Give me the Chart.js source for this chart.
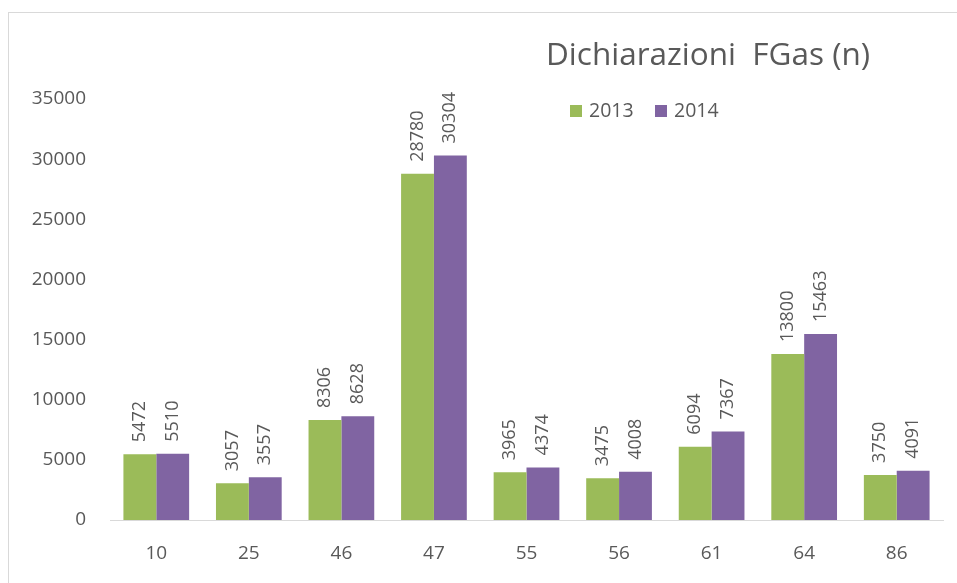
<!DOCTYPE html>
<html>
<head>
<meta charset="utf-8">
<script src="https://cdn.jsdelivr.net/npm/chart.js@4"></script>
<style>
  html, body { margin: 0; padding: 0; background: #fff; }
  #wrap { position: relative; width: 957px; height: 583px; overflow: hidden; }
  #frame { position: absolute; left: 8px; top: 12px; width: 980px; height: 600px; border: 1px solid #d9d9d9; }
  canvas { position: absolute; left: 0; top: 0; }
</style>
</head>
<body>
<div id="wrap">
  <div id="frame"></div>
  <canvas id="fgasChart" width="957" height="583"></canvas>
</div>
<script>
// Dichiarazioni FGas per codice
const categories = ['10', '25', '46', '47', '55', '56', '61', '64', '86'];
const years = ['2013', '2014'];
const values2013 = [5472, 3057, 8306, 28780, 3965, 3475, 6094, 13800, 3750];
const values2014 = [5510, 3557, 8628, 30304, 4374, 4008, 7367, 15463, 4091];
const yTicks = [0, 5000, 10000, 15000, 20000, 25000, 30000, 35000];

const textColor = '#595959';
const font = '"Open Sans", "Noto Sans", sans-serif';

// rotated value labels above each bar
const barLabels = {
    id: 'barLabels',
    afterDatasetsDraw(chart) {
        const ctx = chart.ctx;
        ctx.save();
        ctx.fillStyle = textColor;
        ctx.font = '18px ' + font;
        ctx.textAlign = 'left';
        ctx.textBaseline = 'middle';
        chart.data.datasets.forEach((ds, i) => {
            chart.getDatasetMeta(i).data.forEach((bar, j) => {
                ctx.save();
                ctx.translate(bar.x, bar.y - 12);
                ctx.rotate(-Math.PI / 2);
                ctx.fillText(String(ds.data[j]), 0, 0);
                ctx.restore();
            });
        });
        ctx.restore();
    }
};

// title and legend in the upper right
const header = {
    id: 'header',
    afterDraw(chart) {
        const ctx = chart.ctx;
        ctx.save();
        ctx.fillStyle = textColor;
        ctx.font = '31.5px ' + font;
        ctx.textBaseline = 'middle';
        ctx.textAlign = 'left';
        ctx.fillText('Dichiarazioni  FGas (n)', 546, 56);
        ctx.font = '19.5px ' + font;
        let x = 570;
        chart.data.datasets.forEach(ds => {
            ctx.fillStyle = ds.backgroundColor;
            ctx.fillRect(x, 105, 12, 12);
            ctx.fillStyle = textColor;
            ctx.fillText(ds.label, x + 19, 111);
            x += 85;
        });
        ctx.restore();
    }
};

new Chart(document.getElementById('fgasChart').getContext('2d'), {
    type: 'bar',
    data: {
        labels: categories,
        datasets: [{
            label: years[0],
            data: values2013,
            backgroundColor: '#9BBB59',
            categoryPercentage: 0.71,
            barPercentage: 1
        }, {
            label: years[1],
            data: values2014,
            backgroundColor: '#8064A2',
            categoryPercentage: 0.71,
            barPercentage: 1
        }]
    },
    options: {
        responsive: false,
        animation: false,
        layout: { padding: { top: 99, right: 14, left: 0, bottom: 0 } },
        plugins: {
            legend: { display: false },
            title: { display: false },
            tooltip: { enabled: false }
        },
        scales: {
            x: {
                grid: { display: false, drawTicks: false },
                border: { display: true, color: '#d9d9d9' },
                ticks: { color: textColor, font: { size: 19, family: font }, padding: 22 },
                afterFit(scale) { scale.height = 63; }
            },
            y: {
                min: 0,
                max: 35000,
                grid: { display: false, drawTicks: false },
                border: { display: false },
                afterBuildTicks(scale) { scale.ticks = yTicks.map(v => ({ value: v })); },
                ticks: {
                    color: textColor,
                    font: { size: 19, family: font },
                    padding: 24,
                    callback: v => String(v)
                },
                afterFit(scale) { scale.width = 110; }
            }
        }
    },
    plugins: [barLabels, header]
});
</script>
</body>
</html>
